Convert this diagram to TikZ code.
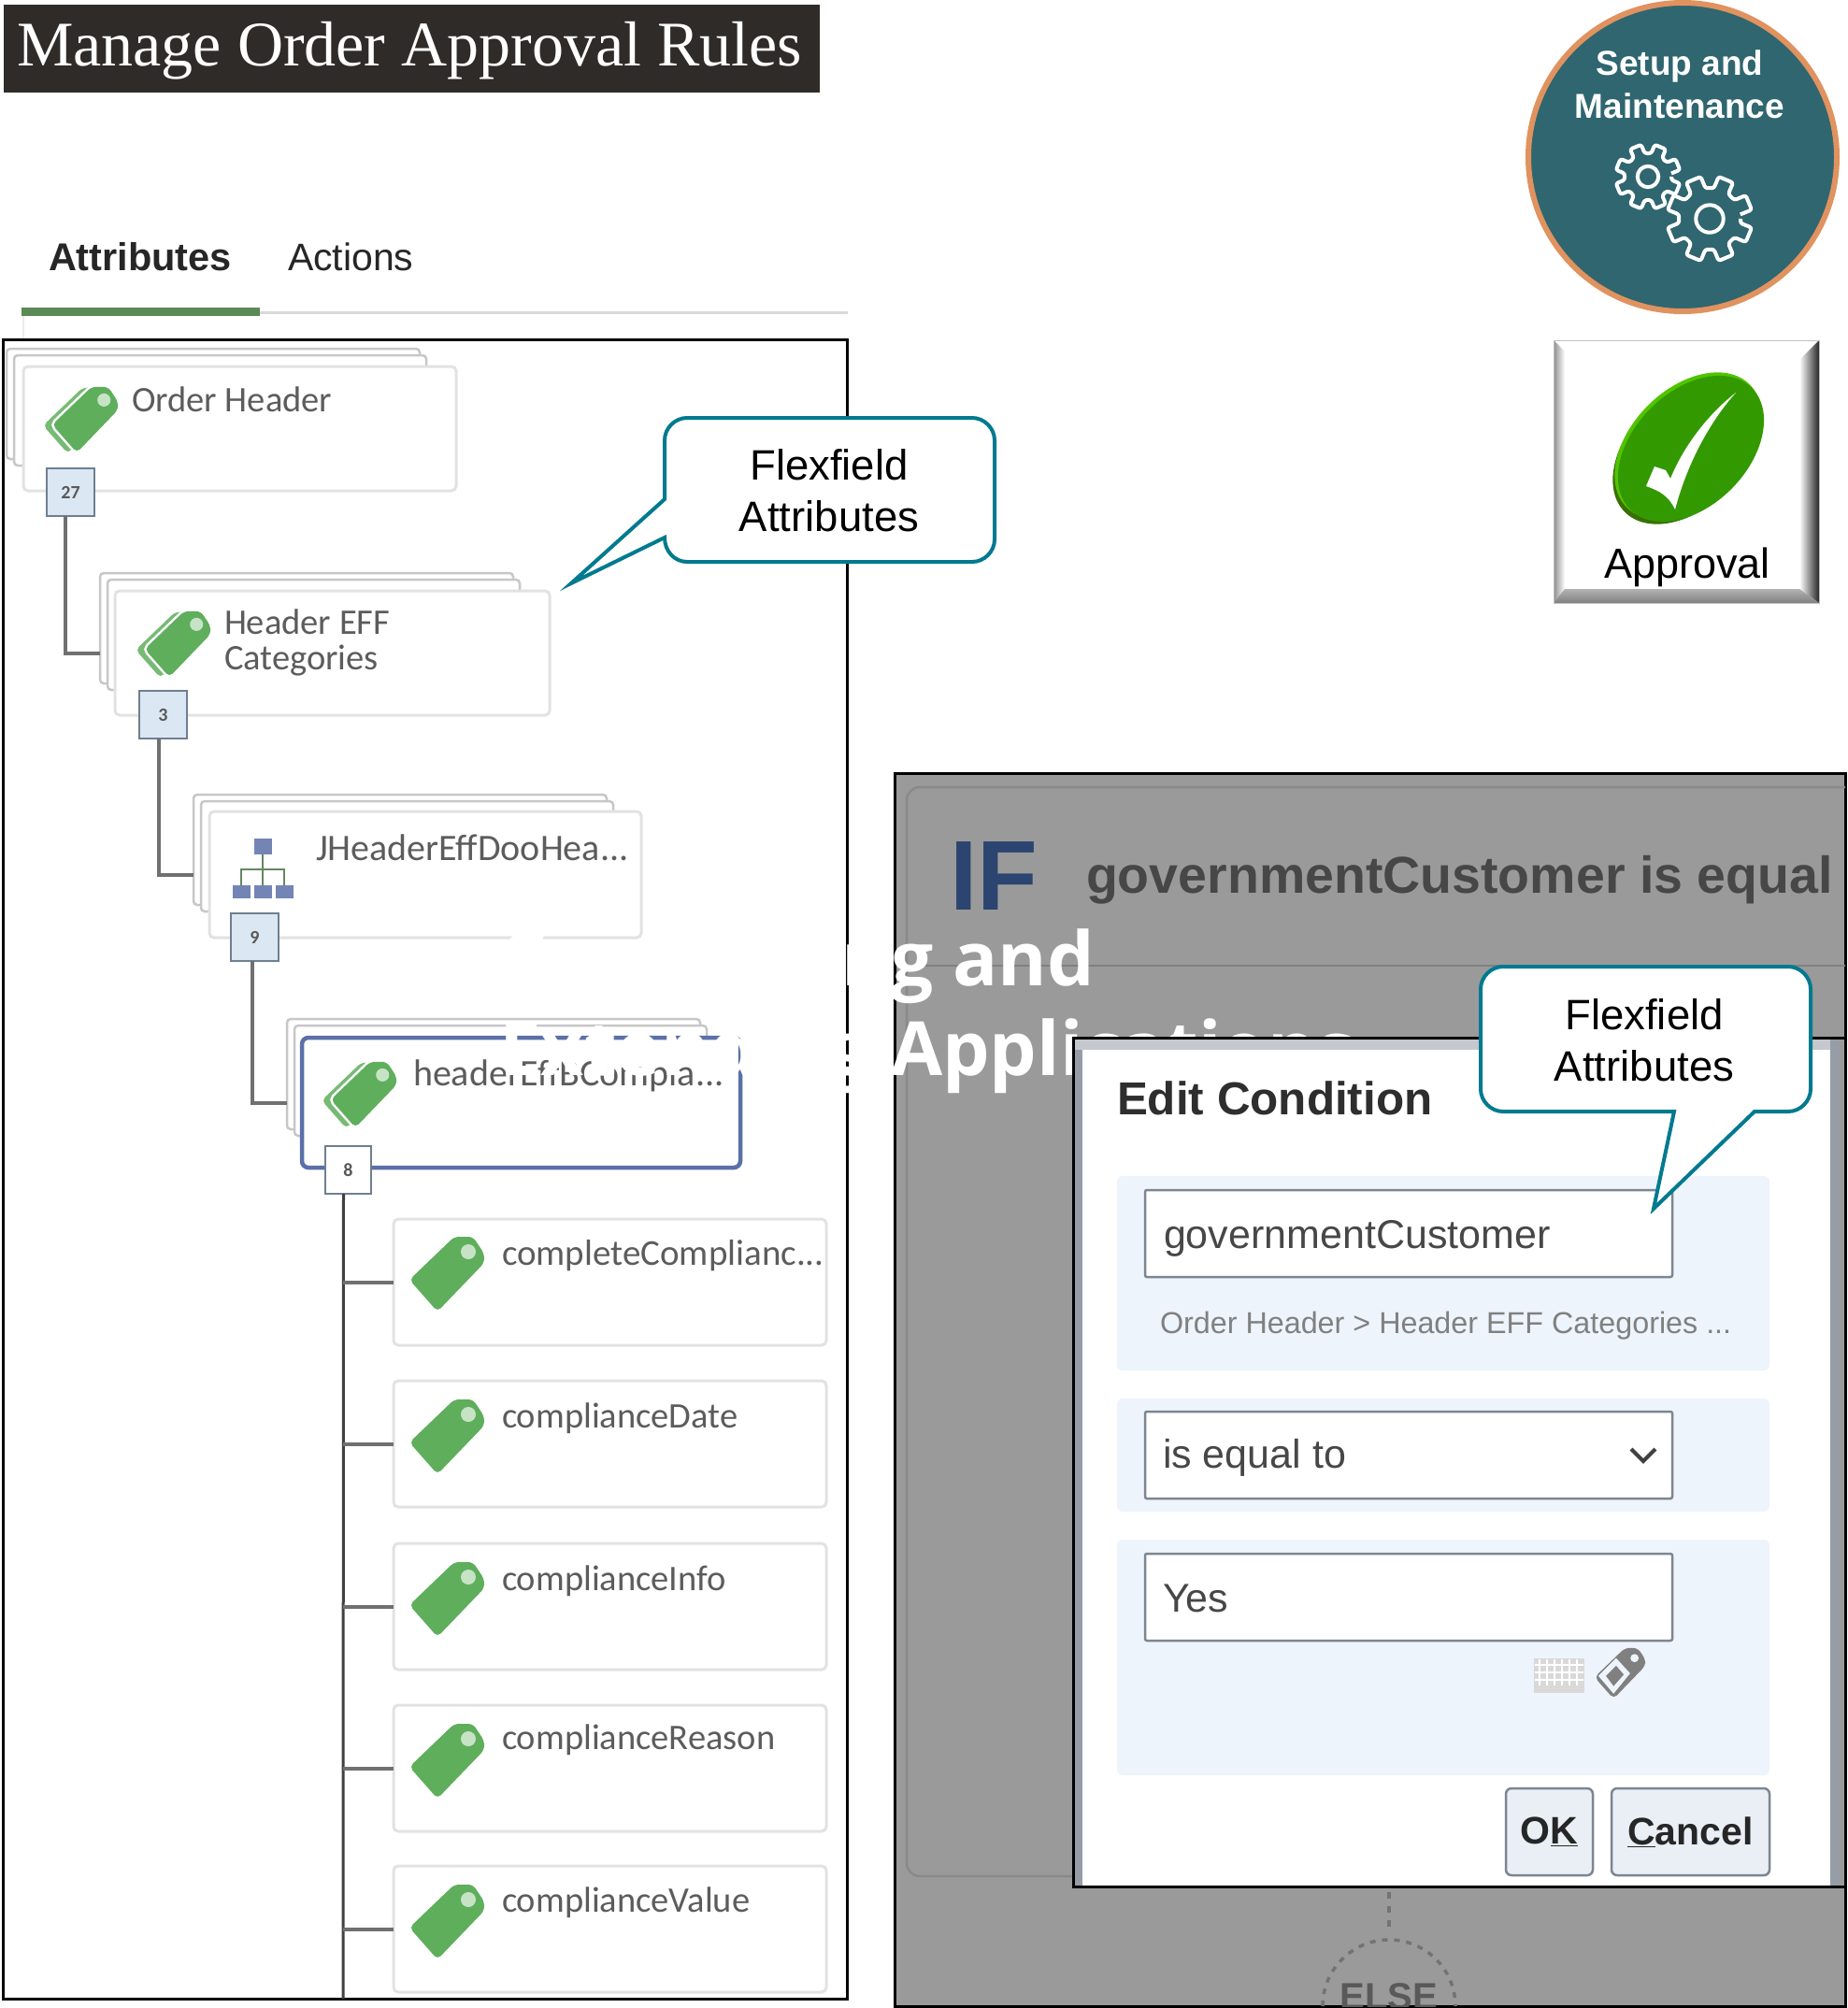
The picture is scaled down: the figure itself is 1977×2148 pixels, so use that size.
\documentclass[tikz,border=0pt]{standalone}
\usepackage{fontspec}
\setmainfont{Liberation Sans}
\newfontfamily\serifttl{Liberation Serif}
\newfontfamily\cardfont{Carlito}
\newfontfamily\ghostfont{Open Sans}
\definecolor{titlebg}{HTML}{2F2B29}
\definecolor{tabgreen}{HTML}{5A8A55}
\definecolor{cardedge}{HTML}{E2E2E2}
\definecolor{cardtext}{HTML}{5C5C5C}
\definecolor{tagg}{HTML}{5FAE5C}
\definecolor{badgef}{HTML}{DCE7F4}
\definecolor{badged}{HTML}{6F7F8F}
\definecolor{conng}{HTML}{707070}
\definecolor{selblue}{HTML}{5B70A8}
\definecolor{teal}{HTML}{007A8F}
\definecolor{panelg}{HTML}{9A9A9A}
\definecolor{inner}{HTML}{8A8A8A}
\definecolor{ifblue}{HTML}{2B4470}
\definecolor{secblue}{HTML}{EEF4FB}
\definecolor{fieldd}{HTML}{7D8590}
\definecolor{btnf}{HTML}{E9EFF5}
\definecolor{circt}{HTML}{2F6670}
\definecolor{circd}{HTML}{1B3C44}
\definecolor{circo}{HTML}{E0925F}
\definecolor{okg}{HTML}{339900}
\definecolor{okd}{HTML}{3A7000}
\definecolor{okl}{HTML}{50C400}
\pgfdeclareradialshading{ballteal}{\pgfpoint{-6bp}{6bp}}{color(0bp)=(circt);color(40bp)=(circt);color(56bp)=(circd);color(80bp)=(circd)}
\newcommand{\fs}[1]{\fontsize{#1}{#1}\selectfont}
\tikzset{
  every node/.style={inner sep=0pt,outer sep=0pt},
  cardbox/.style={draw=cardedge,line width=3pt,fill=white,rounded corners=5pt,anchor=north west},
  backbox/.style={draw=black!22,line width=2.5pt,fill=white,rounded corners=4pt,anchor=north west},
  selbox/.style={draw=selblue,line width=4.5pt,fill=white,rounded corners=7pt,anchor=north west},
  badgebox/.style={draw=badged,line width=2.5pt,fill=badgef,anchor=north west,font=\cardfont\bfseries\fs{20},text=black!65},
  conn/.style={draw=conng,line width=4pt},
  trunk/.style={draw=black!75,line width=3pt},
  cardlabel/.style={anchor=base west,font=\cardfont\fs{38.5},text=cardtext,align=left},
  callout/.style={draw=teal,line width=4pt,fill=white,line join=miter,miter limit=10},
  callabel/.style={font=\fs{45.5},text=black},
  fieldbox/.style={draw=fieldd,line width=2.5pt,fill=white,rounded corners=2pt,anchor=north west},
  secbox/.style={fill=secblue,rounded corners=6pt,anchor=north west},
  btnbox/.style={draw=fieldd,line width=2.5pt,fill=btnf,rounded corners=6pt,anchor=north west},
  fieldtext/.style={anchor=base west,font=\fs{43},text=black!72},
}
\newcommand{\tagshape}{(-40,6) -- (8,-40) -- (28,-40) -- (40,-22) -- (40,-12) -- (-10,40) -- cycle}
\newcommand{\tagicon}[3]{\begin{scope}[shift={(#1,#2)},scale=#3]
  \fill[tagg,rounded corners=5pt] \tagshape;
  \fill[white!65!tagg] (23,-24) circle (8);
\end{scope}}
\newcommand{\stacktag}[3]{\begin{scope}[shift={(#1,#2)},scale=#3]
  \begin{scope}[shift={(-11,1)}]\fill[tagg!85!white,rounded corners=5pt] \tagshape;\end{scope}
  \draw[white,line width=5pt,fill=white,rounded corners=5pt] \tagshape;
  \fill[tagg,rounded corners=5pt] \tagshape;
  \fill[white!65!tagg] (23,-24) circle (8);
\end{scope}}
\newcommand{\gearicon}[3]{\begin{scope}[shift={(#1,#2)}]
  \draw[white,line width=4pt,line join=round,rounded corners=2.5pt]
   (0:#3*0.72) \foreach \a in {0,45,...,315}{
     -- (\a+8:#3*0.72) -- (\a+12:#3) -- (\a+33:#3) -- (\a+37:#3*0.72)};
  \draw[white,line width=4pt] (0,0) circle (#3*0.32);
\end{scope}}
\begin{document}
\begin{tikzpicture}[x=1pt,y=-1pt]
\useasboundingbox (0,0) rectangle (1977,2148);
\fill[white] (0,0) rectangle (1977,2148);
% title
\node[fill=titlebg,minimum width=873pt,minimum height=94pt,anchor=north west] (titlebar) at (4,5) {};
\node[anchor=base west,font=\serifttl\fs{68},text=white] (titletext) at (18,70) {Manage Order Approval Rules};
% tabs
\node[anchor=base west,font=\bfseries\fs{41.5},text=black!85] (tabattr) at (52,289) {Attributes};
\node[anchor=base west,font=\fs{41},text=black!85] (tabact) at (308,289) {Actions};
\fill[black!15] (23,333) rectangle (907,336);
\fill[tabgreen] (23,329) rectangle (278,338);
\draw[black!8,line width=1.5pt] (25,338) -- (25,363);
% left panel
\node[draw=black,line width=3pt,fill=white,minimum width=903pt,minimum height=1775pt,anchor=north west] (leftpanel) at (3,363) {};
\node[backbox,minimum width=442pt,minimum height=118pt] (b1a) at (7,373) {};
\node[backbox,minimum width=441pt,minimum height=118pt] (b1b) at (15,380) {};
\node[backbox,minimum width=442pt,minimum height=118pt] (b2a) at (107,613) {};
\node[backbox,minimum width=441pt,minimum height=118pt] (b2b) at (115,620) {};
\node[backbox,minimum width=442pt,minimum height=118pt] (b3a) at (207,850) {};
\node[backbox,minimum width=441pt,minimum height=118pt] (b3b) at (215,857) {};
\node[backbox,minimum width=442pt,minimum height=118pt] (b4a) at (307,1090) {};
\node[backbox,minimum width=441pt,minimum height=118pt] (b4b) at (315,1097) {};
\node[cardbox,minimum width=463pt,minimum height=133pt] (card1) at (25,392) {};
\node[cardbox,minimum width=465pt,minimum height=133pt] (card2) at (123,632) {};
\node[cardbox,minimum width=462pt,minimum height=135pt] (card3) at (224,868) {};
\node[selbox,minimum width=469pt,minimum height=139pt] (card4) at (323,1110) {};
\node[badgebox,minimum width=51pt,minimum height=51pt] (badge1) at (50,501) {27};
\node[badgebox,minimum width=51pt,minimum height=51pt] (badge2) at (149,739) {3};
\node[badgebox,minimum width=51pt,minimum height=51pt] (badge3) at (247,977) {9};
\node[badgebox,fill=white,minimum width=49pt,minimum height=51pt] (badge4) at (348,1226) {8};
\draw[conn] ([xshift=-6pt]badge1.south) |- (b2a.west |- card2.west);
\draw[conn] ([xshift=-5pt]badge2.south) |- (b3a.west |- card3.west);
\draw[conn] ([xshift=-3pt]badge3.south) |- (b4a.west |- card4.west);
% leaves
\node[cardbox,minimum width=463pt,minimum height=135pt] (leaf1) at (421,1304) {};
\node[cardbox,minimum width=463pt,minimum height=135pt] (leaf2) at (421,1477) {};
\node[cardbox,minimum width=463pt,minimum height=135pt] (leaf3) at (421,1651) {};
\node[cardbox,minimum width=463pt,minimum height=135pt] (leaf4) at (421,1824) {};
\node[cardbox,minimum width=463pt,minimum height=135pt] (leaf5) at (421,1996) {};
\coordinate (trunkend) at (367,2138);
\draw[trunk] ([xshift=-5pt]badge4.south) -- (trunkend);
\foreach \l in {leaf1,leaf2,leaf3,leaf4,leaf5}{\draw[conn] (\l.west -| trunkend) -- (\l.west);}
% icons
\stacktag{91}{449}{0.88}
\stacktag{190}{689}{0.88}
\stacktag{389}{1171}{0.88}
\foreach \yy in {1363,1537,1711,1884,2056}{\tagicon{478}{\yy}{1}}
\fill[selblue!85!white] (272,897) rectangle (291,914);
\foreach \xx in {249,272,295}{\fill[selblue!85!white] (\xx,947) rectangle ++(19,14);}
\draw[tabgreen!70!gray,line width=2.5pt] (281,914) -- (281,947) (258,947) -- (258,930) -- (304,930) -- (304,947);
% card labels
\node[cardlabel] (t1) at (141,440) {Order Header};
\node[cardlabel] (t2a) at (240,678) {Header EFF};
\node[cardlabel] (t2b) at (240,716) {Categories};
\node[cardlabel,font=\cardfont\fs{40}] (t3) at (338,920) {JHeaderEffDooHea...};
\node[cardlabel,font=\cardfont\fs{40}] (t4) at (442,1161) {headerEffBCompla...};
\node[cardlabel,font=\cardfont\fs{39}] (l1) at (537,1353) {completeComplianc...};
\node[cardlabel] (l2) at (537,1527) {complianceDate};
\node[cardlabel] (l3) at (537,1701) {complianceInfo};
\node[cardlabel] (l4) at (537,1871) {complianceReason};
\node[cardlabel] (l5) at (537,2045) {complianceValue};
% right panel
\node[draw=black,line width=3pt,fill=panelg,minimum width=1017pt,minimum height=1319pt,anchor=north west] (rightpanel) at (957,827) {};
\begin{scope}
\clip (958,827) rectangle (1974,2146);
\draw[inner,line width=2.5pt,rounded corners=14pt] (2000,842) -- (970,842) -- (970,2007) -- (2000,2007);
\draw[black!50,line width=2.5pt] (970,1033) -- (1975,1033);
\draw[black!55,line width=3.5pt,dash pattern=on 7pt off 8pt] (1486,2024) -- (1486,2069);
\draw[black!55,line width=3.5pt,dash pattern=on 6pt off 7pt] (1415,2146) arc[start angle=180,end angle=360,radius=71];
\node[anchor=base,font=\bfseries\fs{40},text=black!65] (elsetxt) at (1486,2149) {ELSE};
\end{scope}
\node[anchor=base west,font=\bfseries\fs{106},text=ifblue] (iftxt) at (1016,973) {IF};
\node[anchor=base west,font=\bfseries\fs{55.5},text=black!72] (cond) at (1162,955) {governmentCustomer is equal};
% ghost overlay text
\node[anchor=base west,font=\ghostfont\bfseries\fs{80},text=white] (ghost1) at (534,1054) {Configuring and};
\node[anchor=base west,font=\ghostfont\bfseries\fs{80},text=white] (ghost2) at (534,1150) {Extending Applications};
% dialog
\node[fill=white,minimum width=826pt,minimum height=908pt,anchor=north west] (dialog) at (1148,1110) {};
\fill[fieldd!80!white] (1148,1110) rectangle (1158,2018);
\fill[fieldd!45!white] (1148,1110) rectangle (1974,1123);
\fill[fieldd!80!white] (1958,1110) rectangle (1968,2018);
\fill[panelg] (1968,1110) rectangle (1974,2018);
\draw[black,line width=3pt] (dialog.south east) -- (dialog.south west) -- (dialog.north west) -- (dialog.north east) -- (dialog.south east);
\node[anchor=base west,font=\bfseries\fs{49.4},text=black!82] (edit) at (1195,1192) {Edit Condition};
\node[secbox,minimum width=698pt,minimum height=208pt] (sec1) at (1195,1258) {};
\node[secbox,minimum width=698pt,minimum height=121pt] (sec2) at (1195,1496) {};
\node[secbox,minimum width=698pt,minimum height=252pt] (sec3) at (1195,1647) {};
\node[fieldbox,minimum width=564pt,minimum height=93pt] (f1) at (1225,1273) {};
\node[fieldbox,minimum width=564pt,minimum height=93pt] (f2) at (1225,1510) {};
\node[fieldbox,minimum width=564pt,minimum height=93pt] (f3) at (1225,1662) {};
\node[fieldtext] (f1t) at (1245,1335) {governmentCustomer};
\node[anchor=base west,font=\fs{32.3},text=black!50] (path) at (1241,1426) {Order Header > Header EFF Categories ...};
\node[fieldtext] (f2t) at (1244,1570) {is equal to};
\node[fieldtext] (f3t) at (1244,1724) {Yes};
\draw[black!75,line width=4pt] (1745,1550) -- (1758,1563) -- (1771,1550);
\fill[black!15] (1641,1774) rectangle (1695,1811);
\foreach \xx in {1647,1655,...,1690}{\draw[white,line width=1.5pt] (\xx,1775) -- (\xx,1803);}
\foreach \yy in {1781,1789,1797}{\draw[white,line width=1.5pt] (1642,\yy) -- (1694,\yy);}
\begin{scope}[shift={(1733,1790)},scale=0.68]
  \fill[black!50,rounded corners=5pt] \tagshape;
  \fill[secblue] (23,-24) circle (6.5);
  \fill[secblue] (-34,4) -- (-6,-24) -- (16,0) -- (-10,32) -- cycle;
  \fill[black!50] (-22,4) -- (-6,-12) -- (6,2) -- (-10,20) -- cycle;
\end{scope}
\node[btnbox,minimum width=93pt,minimum height=93pt] (okb) at (1611,1913) {};
\node[btnbox,minimum width=169pt,minimum height=93pt] (cancelb) at (1724,1913) {};
\node[font=\bfseries\fs{41},text=black!85] (okt) at (okb.center) {O\underline{K}};
\node[font=\bfseries\fs{41},text=black!85] (cat) at (cancelb.center) {\underline{C}ancel};
% callouts
\draw[callout] (711,534) -- (711,471) .. controls (711,458) and (722,447) .. (735,447) -- (1040,447) .. controls (1053,447) and (1064,458) .. (1064,471) -- (1064,577) .. controls (1064,590) and (1053,601) .. (1040,601) -- (735,601) .. controls (722,601) and (711,590) .. (711,575) -- (611,624) -- cycle;
\node[callabel] (c1a) at (887,497) {Flexfield};
\node[callabel] (c1b) at (887,552) {Attributes};
\draw[callout] (1791,1189) -- (1608,1189) .. controls (1595,1189) and (1584,1178) .. (1584,1165) -- (1584,1058) .. controls (1584,1045) and (1595,1034) .. (1608,1034) -- (1913,1034) .. controls (1926,1034) and (1937,1045) .. (1937,1058) -- (1937,1165) .. controls (1937,1178) and (1926,1189) .. (1913,1189) -- (1877,1189) -- (1769,1293) -- cycle;
\node[callabel] (c2a) at (1759,1085) {Flexfield};
\node[callabel] (c2b) at (1759,1140) {Attributes};
% setup circle
\shade[shading=ballteal] (1800,168) circle (165);
\draw[circo,line width=6pt] (1800,168) circle (165);
\node[font=\bfseries\fs{37},text=white] (s1) at (1797,71) {Setup and};
\node[font=\bfseries\fs{37},text=white] (s2) at (1797,113) {Maintenance};
\gearicon{1763}{189}{35}
\gearicon{1829}{234}{46}
% approval button
\fill[white] (1662,364) rectangle (1946,645);
\shade[left color=black!45,right color=white] (1662,364) -- (1674,376) -- (1674,630) -- (1662,645) -- cycle;
\shade[left color=white,right color=black!85] (1946,364) -- (1925,385) -- (1925,630) -- (1946,645) -- cycle;
\shade[top color=black!30,bottom color=black!50] (1662,645) -- (1674,630) -- (1925,630) -- (1946,645) -- cycle;
\draw[black!25,line width=1pt] (1662,364) rectangle (1946,645);
\fill[okd,rotate around={45:(1804,482)}] (1804,482) ellipse (93 and 61);
\fill[okl,rotate around={45:(1806,477)}] (1806,477) ellipse (93 and 61);
\fill[okg,rotate around={45:(1809,480)}] (1809,480) ellipse (92 and 61);
\fill[white] (1770,499) -- (1782,503) -- (1787,512) .. controls (1800,480) and (1825,445) .. (1857,420) .. controls (1830,450) and (1805,495) .. (1792,545) .. controls (1785,530) and (1775,525) .. (1761,520) -- cycle;
\node[font=\fs{45},text=black,anchor=base] (appr) at (1805,618) {Approval};
\end{tikzpicture}
\end{document}
